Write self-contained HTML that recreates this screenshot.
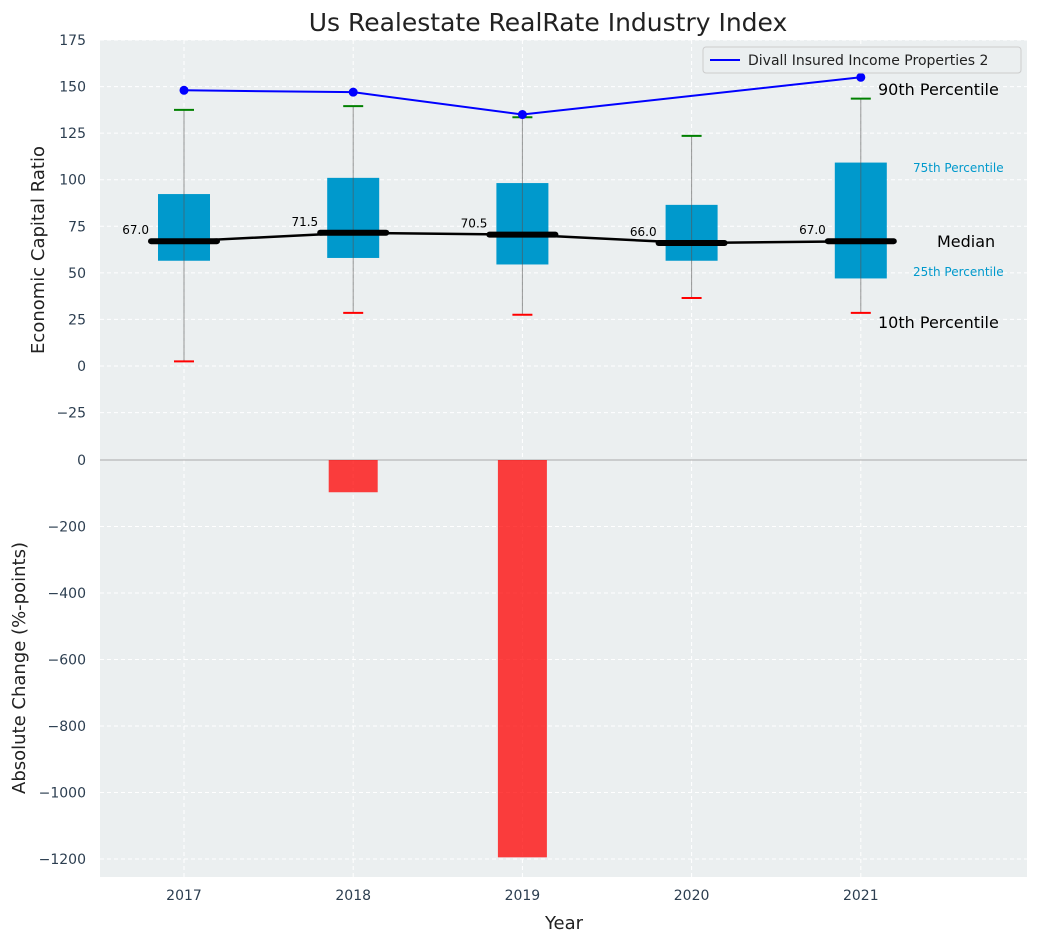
<!DOCTYPE html>
<html><head><meta charset="utf-8"><style>
body{margin:0;background:#fff;font-family:"Liberation Sans","DejaVu Sans",sans-serif}
svg text{font-family:"DejaVu Sans","Liberation Sans",sans-serif}
</style></head><body>
<svg id="c" width="1039" height="942" xmlns="http://www.w3.org/2000/svg"></svg>
<script>
const years=[2017,2018,2019,2020,2021];
const q1=[56.5,58,54.5,56.5,47];
const q3=[92.3,101,98.2,86.5,109.2];
const p10=[2.5,28.5,27.5,36.5,28.5];
const p90=[137.5,139.5,133.5,123.5,143.5];
const medians=[67,71.5,70.5,66,67];
const companyYears=[2017,2018,2019,2021];
const companyVals=[148,147,135,155];
const changeYears=[2018,2019];
const changeVals=[-97,-1195];
const topTicks=[175,150,125,100,75,50,25,0,-25];
const botTicks=[0,-200,-400,-600,-800,-1000,-1200];

const svg=document.getElementById('c');
const NS='http://www.w3.org/2000/svg';
function mk(tag,attrs,parent){const e=document.createElementNS(NS,tag);for(const k in attrs)e.setAttribute(k,attrs[k]);(parent||svg).appendChild(e);return e;}
const X=v=>184+(v-2017)*169.2;
const YT=v=>366-v*(326/175);
function yb(v){return 460+(-v)*(66.5/200);}

let bg=mk('rect',{x:100,y:40,width:927,height:420,fill:'#ebeff0'});

let bg2=mk('rect',{x:100,y:460,width:927,height:417,fill:'#ebeff0'});


years.forEach(y=>{mk('line',{x1:X(y),x2:X(y),y1:40,y2:877,stroke:'#fff','stroke-dasharray':'4,3','stroke-width':1});});
topTicks.forEach(t=>{mk('line',{x1:100,x2:1027,y1:YT(t),y2:YT(t),stroke:'#fff','stroke-dasharray':'4,3'});
 let tx=mk('text',{x:86,y:YT(t)+5,'text-anchor':'end','font-size':14,fill:'#2c3e50'});tx.textContent=t<0?'\u2212'+(-t):t;
 });
botTicks.forEach(t=>{mk('line',{x1:100,x2:1027,y1:yb(t),y2:yb(t),stroke:'#fff','stroke-dasharray':'4,3'});
 let tx=mk('text',{x:86,y:yb(t)+5,'text-anchor':'end','font-size':14,fill:'#2c3e50'});tx.textContent=t<0?'\u2212'+(-t):t;
 });
mk('line',{x1:100,x2:1027,y1:460,y2:460,stroke:'#aaa','stroke-width':1});

years.forEach((y,i)=>{
 const cx=X(y);
 let b=mk('rect',{x:cx-26,y:YT(q3[i]),width:52,height:YT(q1[i])-YT(q3[i]),fill:'#0099cc'});
 
 mk('line',{x1:cx,x2:cx,y1:YT(p90[i]),y2:YT(p10[i]),stroke:'#555','stroke-opacity':0.6,'stroke-width':1});
 mk('line',{x1:cx-10,x2:cx+10,y1:YT(p90[i]),y2:YT(p90[i]),stroke:'green','stroke-width':2});
 mk('line',{x1:cx-10,x2:cx+10,y1:YT(p10[i]),y2:YT(p10[i]),stroke:'red','stroke-width':2});
});
let mp=years.map((y,i)=>X(y)+','+YT(medians[i])).join(' ');
mk('polyline',{points:mp,fill:'none',stroke:'#000','stroke-width':2.5});
years.forEach((y,i)=>{
 const cx=X(y);
 let m=mk('line',{x1:cx-33,x2:cx+33,y1:YT(medians[i]),y2:YT(medians[i]),stroke:'#000','stroke-width':6,'stroke-linecap':'round'});
 
 let t=mk('text',{x:cx-35,y:YT(medians[i])-7,'text-anchor':'end','font-size':12,fill:'#000'});t.textContent=medians[i].toFixed(1);
 
});
mk('polyline',{points:companyYears.map((y,i)=>X(y)+','+YT(companyVals[i])).join(' '),fill:'none',stroke:'#0000ff','stroke-width':2});
companyYears.forEach((y,i)=>{let c=mk('circle',{cx:X(y),cy:YT(companyVals[i]),r:4.5,fill:'#0000ff'});
 });
changeYears.forEach((y,i)=>{let r=mk('rect',{x:X(y)-24.5,y:460,width:49,height:yb(changeVals[i])-460,fill:'#ff0000','fill-opacity':0.75});
 });
years.forEach(y=>{let t=mk('text',{x:X(y),y:900,'text-anchor':'middle','font-size':14,fill:'#2c3e50'});t.textContent=y;
 });
function txt(x,y,s,size,fill,anchor,name){let t=mk('text',{x:x,y:y,'font-size':size,fill:fill,'text-anchor':anchor||'start'});t.textContent=s;return t;}
txt(878,95,'90th Percentile',16,'#000','start','label-90th');
txt(913,172,'75th Percentile',12,'#0099cc','start','label-75th');
txt(937,247,'Median',16,'#000','start','label-median');
txt(913,276,'25th Percentile',12,'#0099cc','start','label-25th');
txt(878,328,'10th Percentile',16,'#000','start','label-10th');
txt(548,31,'Us Realestate RealRate Industry Index',25,'#222','middle','chart-title');
txt(564,929,'Year',18,'#222','middle','x-axis-title');
let a1=txt(0,0,'Economic Capital Ratio',18,'#222','middle','y-axis-title-top');a1.setAttribute('transform','translate(44,250) rotate(-90)');
let a2=txt(0,0,'Absolute Change (%-points)',18,'#222','middle','y-axis-title-bottom');a2.setAttribute('transform','translate(25,668) rotate(-90)');
let lg=mk('g',{});
mk('rect',{x:703,y:47,width:318,height:26,fill:'#ebeff0',stroke:'#ccc',rx:3},lg);
mk('line',{x1:710,x2:740,y1:60,y2:60,stroke:'#0000ff','stroke-width':2},lg);
let lt=mk('text',{x:748,y:65,'font-size':14,fill:'#222'},lg);lt.textContent='Divall Insured Income Properties 2';
</script>
</body></html>
